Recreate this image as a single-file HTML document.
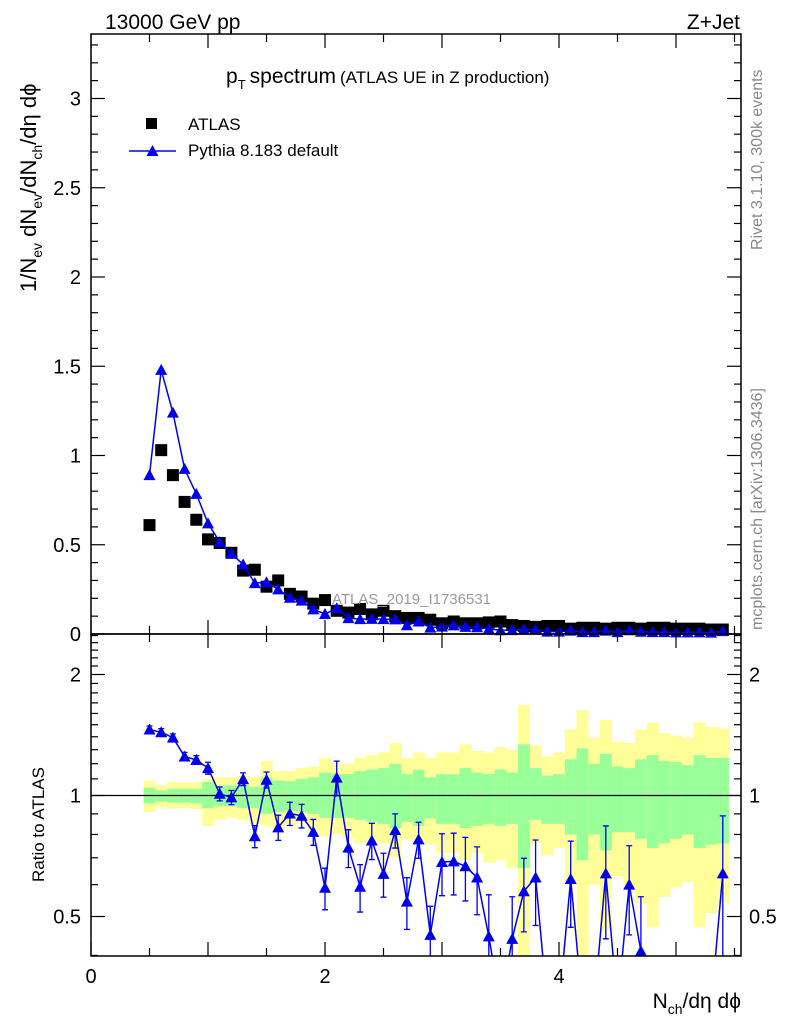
<!DOCTYPE html>
<html><head><meta charset="utf-8"><style>
html,body{margin:0;padding:0;background:#fff;width:786px;height:1024px;overflow:hidden;}
svg{display:block;font-family:"Liberation Sans",sans-serif;}
</style></head><body>
<svg id="c" width="786" height="1024" viewBox="0 0 786 1024" xmlns="http://www.w3.org/2000/svg">
<g id="bands"></g>
<g id="marks"></g>
<g id="axes"></g>
<text x="105" y="29" font-size="21">13000 GeV pp</text>
<text x="740" y="29" font-size="21" text-anchor="end">Z+Jet</text>
<text x="226" y="83" font-size="21">p<tspan font-size="13" dy="6">T</tspan><tspan dy="-6" dx="4">spectrum</tspan><tspan font-size="17" dx="4">(ATLAS UE in Z production)</tspan></text>
<rect x="146" y="118" width="11" height="11" fill="#000"/>
<text x="188" y="130" font-size="17">ATLAS</text>
<line x1="129" y1="151" x2="176" y2="151" stroke="#0000ee" stroke-width="1.5"/>
<path d="M146.5,156 L152.5,145 L158.5,156 Z" fill="#0000ee"/>
<text x="188" y="156" font-size="17">Pythia 8.183 default</text>
<text x="332" y="604" font-size="15" fill="#999">ATLAS_2019_I1736531</text>
<text transform="translate(762,250) rotate(-90)" font-size="16" fill="#888">Rivet 3.1.10,  300k events</text>
<text transform="translate(762,630) rotate(-90)" font-size="16" fill="#888">mcplots.cern.ch [arXiv:1306.3436]</text>
<text transform="translate(36,292) rotate(-90)" font-size="22">1/N<tspan font-size="14" dy="6">ev</tspan><tspan dy="-6"> dN</tspan><tspan font-size="14" dy="6">ev</tspan><tspan dy="-6">/dN</tspan><tspan font-size="14" dy="6">ch</tspan><tspan dy="-6">/dη dϕ</tspan></text>
<text transform="translate(44,882) rotate(-90)" font-size="17">Ratio to ATLAS</text>
<text x="741" y="1008" font-size="21" text-anchor="end">N<tspan font-size="14" dy="6">ch</tspan><tspan dy="-6">/dη dϕ</tspan></text>
</svg>
<script>
const xs=[0.5,0.6,0.7,0.8,0.9,1.0,1.1,1.2,1.3,1.4,1.5,1.6,1.7,1.8,1.9,2.0,2.1,2.2,2.3,2.4,2.5,2.6,2.7,2.8,2.9,3.0,3.1,3.2,3.3,3.4,3.5,3.6,3.7,3.8,3.9,4.0,4.1,4.2,4.3,4.4,4.5,4.6,4.7,4.8,4.9,5.0,5.1,5.2,5.3,5.4];
const atlas=[0.61,1.03,0.89,0.74,0.64,0.53,0.51,0.455,0.355,0.36,0.265,0.30,0.225,0.21,0.17,0.19,0.13,0.12,0.14,0.11,0.13,0.10,0.09,0.09,0.08,0.06,0.07,0.06,0.06,0.065,0.07,0.05,0.045,0.04,0.045,0.045,0.03,0.035,0.035,0.03,0.035,0.035,0.03,0.035,0.035,0.03,0.03,0.03,0.025,0.025];
const pythia=[0.89,1.48,1.24,0.925,0.785,0.62,0.515,0.45,0.39,0.285,0.29,0.25,0.203,0.187,0.138,0.112,0.144,0.089,0.083,0.085,0.083,0.082,0.049,0.070,0.036,0.041,0.048,0.040,0.0375,0.029,0.021,0.022,0.026,0.025,0.0135,0.0135,0.0186,0.0105,0.0105,0.0192,0.0105,0.021,0.0123,0.0105,0.0105,0.009,0.009,0.009,0.0075,0.016];
const ratioErr=[0.03,0.03,0.03,0.03,0.03,0.04,0.04,0.04,0.04,0.05,0.05,0.06,0.06,0.06,0.06,0.07,0.11,0.08,0.08,0.08,0.08,0.08,0.08,0.08,0.08,0.12,0.12,0.12,0.12,0.12,0.12,0.12,0.12,0.15,0.12,0.12,0.15,0.12,0.12,0.2,0.12,0.15,0.15,0.12,0.12,0.12,0.12,0.12,0.12,0.25];
const yTop=[1.09,1.06,1.08,1.08,1.08,1.10,1.11,1.11,1.12,1.11,1.22,1.15,1.15,1.17,1.18,1.24,1.20,1.20,1.24,1.26,1.28,1.35,1.24,1.28,1.24,1.28,1.28,1.34,1.29,1.28,1.32,1.30,1.68,1.33,1.25,1.28,1.46,1.63,1.39,1.54,1.36,1.35,1.46,1.52,1.43,1.41,1.39,1.52,1.48,1.47];
const gTop=[1.045,1.03,1.04,1.04,1.04,1.08,1.06,1.06,1.065,1.05,1.11,1.09,1.085,1.10,1.11,1.14,1.13,1.13,1.15,1.16,1.17,1.20,1.13,1.16,1.11,1.13,1.13,1.17,1.14,1.13,1.16,1.14,1.34,1.17,1.12,1.13,1.23,1.31,1.20,1.27,1.18,1.17,1.23,1.26,1.22,1.21,1.19,1.26,1.24,1.24];
const gBot=[0.955,0.965,0.96,0.96,0.955,0.93,0.94,0.94,0.93,0.93,0.90,0.91,0.915,0.91,0.90,0.88,0.88,0.88,0.87,0.86,0.85,0.83,0.86,0.84,0.877,0.85,0.85,0.83,0.84,0.85,0.84,0.85,0.66,0.87,0.85,0.85,0.80,0.69,0.80,0.73,0.81,0.81,0.78,0.74,0.76,0.78,0.80,0.74,0.755,0.76];
const yBot=[0.91,0.935,0.93,0.93,0.925,0.84,0.87,0.88,0.87,0.85,0.84,0.83,0.84,0.85,0.81,0.79,0.80,0.78,0.76,0.77,0.76,0.70,0.78,0.76,0.755,0.72,0.72,0.69,0.72,0.68,0.69,0.66,0.39,0.76,0.71,0.74,0.60,0.39,0.60,0.46,0.63,0.58,0.54,0.47,0.56,0.59,0.61,0.47,0.51,0.54];
const yTickLabels=["0","0.5","1","1.5","2","2.5","3"];
const ratioTickLabels=["0.5","1","2"];
const xTickLabels=["0","2","4"];

const NS="http://www.w3.org/2000/svg";
const L=91,R=741,T1=34,B1=634,B2=956;
const X=v=>L+v*117;
const Y=v=>B1-v*178.5;
const RY=v=>795.5-121*Math.log2(v);
function mk(tag,attrs,parent){const e=document.createElementNS(NS,tag);for(const k in attrs)e.setAttribute(k,attrs[k]);parent.appendChild(e);return e;}
const bands=document.getElementById('bands'),marks=document.getElementById('marks'),axes=document.getElementById('axes');
const clipR=v=>Math.min(B2,Math.max(B1,v));

xs.forEach((x,i)=>{
  const x0=X(x-0.05),w=X(x+0.05)-x0;
  let a=clipR(RY(yTop[i])),b=clipR(RY(yBot[i]));
  let r=mk('rect',{x:x0,y:a,width:w+0.3,height:b-a,fill:'#ffff99'},bands);
  
  
  a=clipR(RY(gTop[i]));b=clipR(RY(gBot[i]));
  r=mk('rect',{x:x0,y:a,width:w+0.3,height:b-a,fill:'#99ff99'},bands);
  
  
});
let ref=mk('line',{x1:L,y1:RY(1),x2:R,y2:RY(1),stroke:'#000','stroke-width':1.3},bands);



xs.forEach((x,i)=>{
  const s=mk('rect',{x:X(x)-6,y:Y(atlas[i])-6,width:12,height:12,fill:'#000'},marks);
  
  
});
let pts=xs.map((x,i)=>X(x)+','+Y(pythia[i])).join(' ');
let pl=mk('polyline',{points:pts,fill:'none',stroke:'#0000ee','stroke-width':1.5},marks);


function tri(cx,cy,parent,name){
  const t=mk('path',{d:`M${cx-6},${cy+5} L${cx},${cy-6} L${cx+6},${cy+5} Z`,fill:'#0000ee'},parent);
  
  
}
function ebar(cx,y1,y2,parent){
  const g=mk('path',{d:`M${cx},${y1}V${y2}M${cx-3},${y1}H${cx+3}M${cx-3},${y2}H${cx+3}`,stroke:'#0000ee','stroke-width':1.3,fill:'none'},parent);
  
  
}
xs.forEach((x,i)=>{
  const rel=ratioErr[i]/(pythia[i]/atlas[i]);
  const e=pythia[i]*rel;
  if(e*178.5>6) ebar(X(x),Y(pythia[i]+e),Y(pythia[i]-e),marks);
  tri(X(x),Y(pythia[i]),marks,'pythia-point');
});

const cp=mk('clipPath',{id:'rclip'},marks);mk('rect',{x:L,y:B1,width:R-L,height:B2-B1},cp);
const rg=mk('g',{'clip-path':'url(#rclip)'},marks);
const ratio=xs.map((x,i)=>pythia[i]/atlas[i]);
let rl=mk('polyline',{points:xs.map((x,i)=>X(x)+','+RY(ratio[i])).join(' '),fill:'none',stroke:'#0000ee','stroke-width':1.5},rg);


xs.forEach((x,i)=>{
  if(ratio[i]<0.38) return;
  ebar(X(x),RY(ratio[i]+ratioErr[i]),RY(Math.max(0.05,ratio[i]-ratioErr[i])),rg);
  tri(X(x),RY(ratio[i]),rg,'ratio-point');
});

[[T1,B1],[B1,B2]].forEach(([a,b])=>{
  const f=mk('rect',{x:L,y:a,width:R-L,height:b-a,fill:'none',stroke:'#000','stroke-width':1.5},axes);
  
  
});
function tk(x1,y1,x2,y2){mk('line',{x1,y1,x2,y2,stroke:'#000','stroke-width':1.2},axes);}
function lbl(x,y,t,anchor,name){
  const e=mk('text',{x,y,'font-size':20,'text-anchor':anchor},axes);e.textContent=t;
  
  
}
for(let k=0;k<=11;k++){
  const v=k*0.5,px=X(v);if(px>R)break;
  const len=(k%2===0)?14:8;
  [[T1,1],[B1,-1],[B1,1],[B2,-1]].forEach(([y,d])=>tk(px,y,px,y+d*len));
}
xTickLabels.forEach(t=>lbl(X(+t),983,t,'middle','x-tick-label'));
for(let k=0;k<=33;k++){
  const v=k*0.1,py=Y(v);if(py<T1)break;
  const len=(k%5===0)?14:7;
  tk(L,py,L+len,py);tk(R,py,R-len,py);
}
yTickLabels.forEach(t=>lbl(81,Y(+t)+7,t,'end','y-tick-label'));
[0.4,0.5,0.6,0.7,0.8,0.9,1,1.1,1.2,1.3,1.4,1.5,1.6,1.7,1.8,1.9,2,2.1,2.2,2.3,2.4,2.5].forEach(v=>{
  const py=RY(v);if(py<B1||py>B2)return;
  const len=([0.5,1,2].includes(v))?14:7;
  tk(L,py,L+len,py);tk(R,py,R-len,py);
});
ratioTickLabels.forEach(t=>{lbl(81,RY(+t)+7,t,'end','ratio-tick-label');lbl(749,RY(+t)+7,t,'start','ratio-tick-label-right');});
</script>
</body></html>
